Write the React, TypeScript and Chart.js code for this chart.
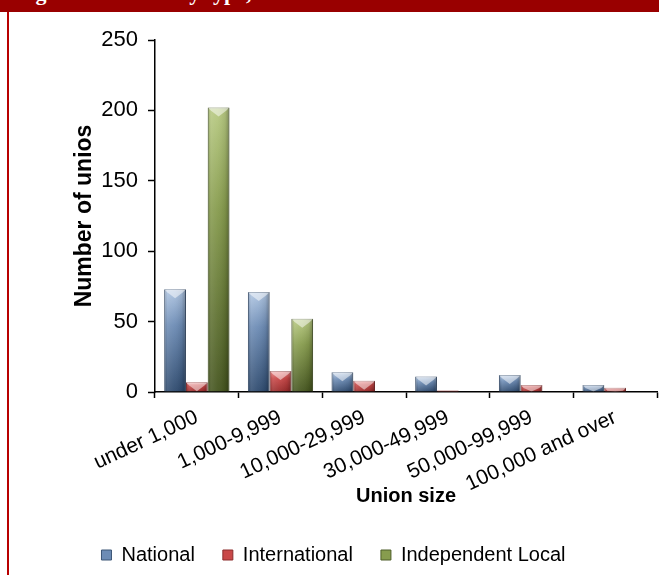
import React, { useEffect, useRef } from "react";
import { Chart, registerables } from "chart.js";

Chart.register(...registerables);

const categories = [
  "under 1,000",
  "1,000-9,999",
  "10,000-29,999",
  "30,000-49,999",
  "50,000-99,999",
  "100,000 and over",
];
const nationalValues = [73, 71, 14, 11, 12, 5];
const internationalValues = [7, 15, 8, 1, 5, 3];
const independentValues = [202, 52, 0, 0, 0, 0];
const seriesNames = ["National", "International", "Independent Local"];
const yTicks = [0, 50, 100, 150, 200, 250];

const FONT = "'Liberation Sans', Arial, sans-serif";

const palettes = [
  { top: "#b0c6e2", mid: "#6d8cb5", bottom: "#2e4a6e", border: "#3d5677" },
  { top: "#ee8484", mid: "#c94848", bottom: "#982a2a", border: "#8c2d2d" },
  { top: "#b8ca82", mid: "#879c4e", bottom: "#45551f", border: "#4f5f2a" },
];

function makeBg(p: any) {
  return (ctx: any) => {
    const chart = ctx.chart;
    const ys = chart.scales && chart.scales.y;
    if (ctx.type !== "data" || !ys) return p.mid;
    const top = ys.getPixelForValue(ctx.raw);
    const bottom = ys.getPixelForValue(0);
    if (!isFinite(top) || !isFinite(bottom) || bottom - top < 2) return p.mid;
    const g = chart.ctx.createLinearGradient(0, top, 0, bottom);
    g.addColorStop(0, p.top);
    g.addColorStop(0.35, p.mid);
    g.addColorStop(1, p.bottom);
    return g;
  };
}

const bevelPlugin = {
  id: "bevel",
  afterDatasetsDraw(chart: any) {
    const c = chart.ctx;
    chart.data.datasets.forEach((_: any, di: number) => {
      const meta = chart.getDatasetMeta(di);
      meta.data.forEach((el: any) => {
        const { x, y, base, width } = el.getProps(["x", "y", "base", "width"], true);
        const h = base - y;
        if (h < 1) return;
        const l = x - width / 2;
        const r = x + width / 2;
        c.save();
        c.beginPath();
        c.rect(l, y, width, h);
        c.clip();
        const hg = c.createLinearGradient(l, 0, r, 0);
        hg.addColorStop(0, "rgba(0,0,0,0.18)");
        hg.addColorStop(0.15, "rgba(255,255,255,0.12)");
        hg.addColorStop(0.45, "rgba(255,255,255,0.05)");
        hg.addColorStop(0.8, "rgba(0,0,0,0.08)");
        hg.addColorStop(1, "rgba(0,0,0,0.3)");
        c.fillStyle = hg;
        c.fillRect(l, y, width, h);
        const d = Math.min(9, h);
        c.beginPath();
        c.moveTo(l, y);
        c.lineTo(r, y);
        c.lineTo(r - 3, y + Math.min(3, h));
        c.lineTo(x, y + d);
        c.lineTo(l + 3, y + Math.min(3, h));
        c.closePath();
        c.fillStyle = "rgba(255,255,255,0.5)";
        c.fill();
        c.restore();
      });
    });
  },
};

export default function App() {
  const ref = useRef<HTMLCanvasElement>(null);
  useEffect(() => {
    if (!ref.current) return;
    const values = [nationalValues, internationalValues, independentValues];
    const chart = new Chart(ref.current, {
      type: "bar",
      data: {
        labels: categories,
        datasets: seriesNames.map((name, i) => ({
          label: name,
          data: values[i],
          backgroundColor: makeBg(palettes[i]),
          borderColor: palettes[i].border,
          borderWidth: 1,
          barPercentage: 1,
          categoryPercentage: 0.78,
        })),
      },
      options: {
        responsive: false,
        animation: false,
        devicePixelRatio: 1,
        layout: { padding: { top: 28, right: 3, left: 0, bottom: 0 } },
        plugins: {
          tooltip: { enabled: false },
          legend: {
            position: "bottom",
            labels: {
              color: "#000",
              font: { family: FONT, size: 20 },
              boxWidth: 10,
              boxHeight: 10,
              padding: 28,
              generateLabels: () =>
                seriesNames.map((name, i) => ({
                  text: name,
                  fillStyle: palettes[i].mid,
                  strokeStyle: palettes[i].border,
                  lineWidth: 1,
                  datasetIndex: i,
                  hidden: false,
                })),
            },
          },
        },
        scales: {
          x: {
            offset: true,
            grid: {
              display: true,
              drawOnChartArea: false,
              offset: true,
              tickLength: 6,
              tickColor: "#000",
              tickWidth: 1.5,
            },
            border: { color: "#000", width: 1.5 },
            ticks: {
              color: "#000",
              font: { family: FONT, size: 21 },
              minRotation: 25,
              maxRotation: 25,
              autoSkip: false,
              padding: 7,
            },
            title: {
              display: true,
              text: "Union size",
              color: "#000",
              font: { family: FONT, size: 20, weight: "bold" },
              padding: { top: 0, bottom: 9 },
            },
            afterFit: (s: any) => {
              s.height = 125;
            },
          },
          y: {
            min: 0,
            max: 250,
            afterBuildTicks: (s: any) => {
              s.ticks = yTicks.map((v) => ({ value: v }));
            },
            grid: {
              drawOnChartArea: false,
              tickLength: 7,
              tickColor: "#000",
              tickWidth: 1.5,
            },
            border: { color: "#000", width: 1.5 },
            ticks: {
              color: "#000",
              font: { family: FONT, size: 22 },
              padding: 10,
            },
            title: {
              display: true,
              text: "Number of unios",
              color: "#000",
              font: { family: FONT, size: 23, weight: "bold" },
              padding: { top: 61, bottom: 0 },
            },
            afterFit: (s: any) => {
              s.width = 145;
            },
          },
        },
      },
      plugins: [bevelPlugin],
    });
    return () => chart.destroy();
  }, []);

  return (
    <div style={{ position: "absolute", left: 0, top: 0, width: 660, height: 575, background: "#fff", overflow: "hidden" }}>
      <div style={{ position: "absolute", left: 0, top: 0, width: 659, height: 12, background: "#990000", overflow: "hidden" }}>
        <div
          style={{
            position: "absolute",
            left: 16,
            top: -18,
            color: "#fff",
            fontFamily: "'Liberation Serif', 'Times New Roman', serif",
            fontWeight: "bold",
            fontSize: 22,
            whiteSpace: "nowrap",
            lineHeight: "22px",
          }}
        >
          Figure 2. Unions by type, 2005
        </div>
      </div>
      <div style={{ position: "absolute", left: 7, top: 12, width: 2, height: 563, background: "#b80000" }} />
      <canvas ref={ref} width={650} height={563} style={{ position: "absolute", left: 10, top: 12 }} />
    </div>
  );
}
